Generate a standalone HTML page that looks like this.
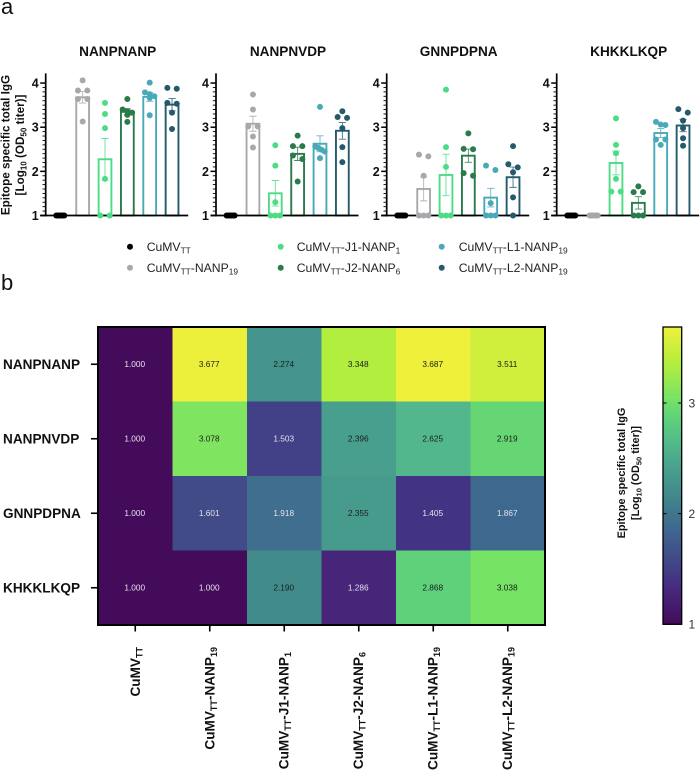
<!DOCTYPE html>
<html lang="en">
<head>
<meta charset="utf-8">
<title>Epitope specific total IgG</title>
<style>
html,body{margin:0;padding:0;background:#fff;}
svg{display:block;font-family:"Liberation Sans",Arial,sans-serif;}
</style>
</head>
<body>
<svg id="figure" width="700" height="772" viewBox="0 0 700 772" xmlns="http://www.w3.org/2000/svg">
  <rect width="700" height="772" fill="#fff"/>
  <text x="1" y="14" font-size="22" fill="#111">a</text>
  <text x="1" y="290" font-size="22" fill="#111">b</text>

  <g font-size="11.7" font-weight="700" fill="#111" text-anchor="middle">
    <text transform="translate(9.5 145) rotate(-90)">Epitope specific total IgG</text>
    <text transform="translate(24 145) rotate(-90)">[Log<tspan dy="2.5" font-size="8">10</tspan><tspan dy="-2.5"> (OD</tspan><tspan dy="2.5" font-size="8">50</tspan><tspan dy="-2.5"> titer)]</tspan></text>
  </g>

  <g id="bar-panels"></g>

  <g font-size="12.2" fill="#222">
    <g><circle cx="130" cy="246.7" r="3" fill="#000"/><text x="146.7" y="251">CuMV<tspan dy="2.5" font-size="8.4">TT</tspan></text></g>
    <g><circle cx="130" cy="267.7" r="3" fill="#a7a8ac"/><text x="146.7" y="272">CuMV<tspan dy="2.5" font-size="8.4">TT</tspan><tspan dy="-2.5">-NANP</tspan><tspan dy="2.5" font-size="8.4">19</tspan></text></g>
    <g><circle cx="280.7" cy="246.7" r="3" fill="#4cdc85"/><text x="296.7" y="251">CuMV<tspan dy="2.5" font-size="8.4">TT</tspan><tspan dy="-2.5">-J1-NANP</tspan><tspan dy="2.5" font-size="8.4">1</tspan></text></g>
    <g><circle cx="280.7" cy="267.7" r="3" fill="#2a7a4b"/><text x="296.7" y="272">CuMV<tspan dy="2.5" font-size="8.4">TT</tspan><tspan dy="-2.5">-J2-NANP</tspan><tspan dy="2.5" font-size="8.4">6</tspan></text></g>
    <g><circle cx="441.7" cy="246.7" r="3" fill="#4aa9b8"/><text x="458.7" y="251">CuMV<tspan dy="2.5" font-size="8.4">TT</tspan><tspan dy="-2.5">-L1-NANP</tspan><tspan dy="2.5" font-size="8.4">19</tspan></text></g>
    <g><circle cx="441.7" cy="267.7" r="3" fill="#245a6b"/><text x="458.7" y="272">CuMV<tspan dy="2.5" font-size="8.4">TT</tspan><tspan dy="-2.5">-L2-NANP</tspan><tspan dy="2.5" font-size="8.4">19</tspan></text></g>
  </g>

  <g id="heatmap"></g>

  <g font-size="13.6" font-weight="700" fill="#111" text-anchor="end">
    <text transform="translate(140 647) rotate(-90)">CuMV<tspan dy="2.5" font-size="9">TT</tspan></text>
    <text transform="translate(214.3 647) rotate(-90)">CuMV<tspan dy="2.5" font-size="9">TT</tspan><tspan dy="-2.5">-NANP</tspan><tspan dy="2.5" font-size="9">19</tspan></text>
    <text transform="translate(288.7 652) rotate(-90)">CuMV<tspan dy="2.5" font-size="9">TT</tspan><tspan dy="-2.5">-J1-NANP</tspan><tspan dy="2.5" font-size="9">1</tspan></text>
    <text transform="translate(363.2 652) rotate(-90)">CuMV<tspan dy="2.5" font-size="9">TT</tspan><tspan dy="-2.5">-J2-NANP</tspan><tspan dy="2.5" font-size="9">6</tspan></text>
    <text transform="translate(437.6 647) rotate(-90)">CuMV<tspan dy="2.5" font-size="9">TT</tspan><tspan dy="-2.5">-L1-NANP</tspan><tspan dy="2.5" font-size="9">19</tspan></text>
    <text transform="translate(512.2 647) rotate(-90)">CuMV<tspan dy="2.5" font-size="9">TT</tspan><tspan dy="-2.5">-L2-NANP</tspan><tspan dy="2.5" font-size="9">19</tspan></text>
  </g>

  <g id="colorbar"></g>

  <g font-size="10.9" font-weight="700" fill="#111" text-anchor="middle">
    <text transform="translate(625 473) rotate(-90)">Epitope specific total IgG</text>
    <text transform="translate(639 473) rotate(-90)">[Log<tspan dy="2.5" font-size="7.5">10</tspan><tspan dy="-2.5"> (OD</tspan><tspan dy="2.5" font-size="7.5">50</tspan><tspan dy="-2.5"> titer)]</tspan></text>
  </g>
</svg>

<script>
// ---- data ----
const epitopes = ["NANPNANP", "NANPNVDP", "GNNPDPNA", "KHKKLKQP"];
const groups = ["CuMV-TT", "NANP19", "J1-NANP1", "J2-NANP6", "L1-NANP19", "L2-NANP19"];
const groupColors = ["#000000", "#a7a8ac", "#4cdc85", "#2a7a4b", "#4aa9b8", "#245a6b"];
const yTicks = [1, 2, 3, 4];
const colorbarTicks = [1, 2, 3];

const meansNanpnanp = [1.000, 3.677, 2.274, 3.348, 3.687, 3.511];
const meansNanpnvdp = [1.000, 3.078, 1.503, 2.396, 2.625, 2.919];
const meansGnnpdpna = [1.000, 1.601, 1.918, 2.355, 1.405, 1.867];
const meansKhkklkqp = [1.000, 1.000, 2.190, 1.286, 2.868, 3.038];

const semsNanpnanp = [0, 0.13, 0.47, 0.07, 0.10, 0.14];
const semsNanpnvdp = [0, 0.17, 0.29, 0.15, 0.18, 0.19];
const semsGnnpdpna = [0, 0.27, 0.47, 0.15, 0.21, 0.23];
const semsKhkklkqp = [0, 0, 0.27, 0.14, 0.10, 0.14];

const pointsNanpnanp = [
  [1, 1, 1, 1, 1, 1],
  [4.06, 3.83, 3.83, 3.64, 3.64, 3.13],
  [3.55, 3.30, 2.98, 1.83, 1, 1],
  [3.64, 3.40, 3.36, 3.33, 3.28, 3.12],
  [4.01, 3.79, 3.75, 3.70, 3.66, 3.27],
  [3.89, 3.87, 3.55, 3.53, 3.33, 2.96]
];
const pointsNanpnvdp = [
  [1, 1, 1, 1, 1, 1],
  [3.74, 3.40, 3.02, 3.02, 2.79, 2.54],
  [2.59, 2.13, 1.30, 1, 1, 1],
  [2.81, 2.57, 2.57, 2.36, 2.28, 1.77],
  [3.46, 2.56, 2.53, 2.49, 2.45, 2.30],
  [3.36, 3.23, 3.21, 2.98, 2.55, 2.21]
];
const pointsGnnpdpna = [
  [1, 1, 1, 1, 1, 1],
  [2.38, 2.34, 1.90, 1, 1, 1],
  [3.85, 2.55, 2.10, 1, 1, 1],
  [2.86, 2.51, 2.50, 1.96, 1.90],
  [2.13, 2.03, 1.28, 1, 1, 1],
  [2.57, 2.16, 2.09, 1.98, 1.41, 1]
];
const pointsKhkklkqp = [
  [1, 1, 1, 1, 1, 1],
  [1, 1, 1, 1, 1, 1],
  [3.20, 2.60, 2.41, 1.83, 1.54, 1.54],
  [1.66, 1.53, 1.53, 1, 1, 1],
  [3.12, 3.06, 3.05, 2.72, 2.72, 2.60],
  [3.41, 3.33, 3.15, 2.98, 2.75, 2.58]
];

const allMeans = [meansNanpnanp, meansNanpnvdp, meansGnnpdpna, meansKhkklkqp];
const allSems = [semsNanpnanp, semsNanpnvdp, semsGnnpdpna, semsKhkklkqp];
const allPoints = [pointsNanpnanp, pointsNanpnvdp, pointsGnnpdpna, pointsKhkklkqp];

const colorValues = [1.0, 1.286, 1.405, 1.503, 1.867, 2.19, 2.396, 2.625, 2.868, 3.038, 3.348, 3.687];
const colorStops = ["#430b59", "#47267a", "#433383", "#424086", "#3f688f", "#428b8b", "#489f8d", "#52b78c", "#5fd17b", "#77e364", "#b2ee3e", "#eef03a"];

// ---- helpers ----
const NS = "http://www.w3.org/2000/svg";
function make(parent, tag, attrs, txt) {
  const n = document.createElementNS(NS, tag);
  for (const k in attrs) n.setAttribute(k, attrs[k]);
  if (txt !== undefined) n.textContent = txt;
  parent.appendChild(n);
  return n;
}
function yScale(v) { return 215.5 - (v - 1) * 44.15; }
function hexToRgb(h) { return [1, 3, 5].map(function (i) { return parseInt(h.substr(i, 2), 16); }); }
function colorFor(v) {
  if (v <= colorValues[0]) return colorStops[0];
  for (let i = 1; i < colorValues.length; i++) {
    if (v <= colorValues[i]) {
      const t = (v - colorValues[i - 1]) / (colorValues[i] - colorValues[i - 1]);
      const a = hexToRgb(colorStops[i - 1]);
      const b = hexToRgb(colorStops[i]);
      return "rgb(" + a.map(function (c, j) { return Math.round(c + (b[j] - c) * t); }).join(",") + ")";
    }
  }
  return colorStops[colorStops.length - 1];
}
// Spread near-equal values sideways, like a scatter swarm
function swarmOffsets(vals) {
  const out = [];
  let i = 0;
  while (i < vals.length) {
    let j = i;
    while (j + 1 < vals.length && Math.abs(vals[i] - vals[j + 1]) <= 0.11) j++;
    const n = j - i + 1;
    const half = n >= 6 ? 4 : 4.7;
    for (let k = 0; k < n; k++) {
      out.push(n === 1 ? 0 : -half + 2 * half * k / (n - 1));
    }
    i = j + 1;
  }
  return out;
}

// ---- bar panels ----
const panelsRoot = document.getElementById("bar-panels");
const axisXs = [45.7, 216, 386.7, 556.7];
epitopes.forEach(function (name, p) {
  const ax = axisXs[p];
  const g = make(panelsRoot, "g", {});
  
  

  const title = make(g, "text", { x: ax + 72, y: 56, "font-size": 13.6, "font-weight": 700, "text-anchor": "middle", fill: "#111" }, name);
  
  

  // bars and error bars
  groups.forEach(function (grp, s) {
    const cx = ax + 14.6 + 22.35 * s;
    const m = allMeans[p][s];
    const e = allSems[p][s];
    const col = groupColors[s];
    if (m > 1.001) {
      const bar = make(g, "rect", { x: cx - 6.4, y: yScale(m), width: 12.8, height: yScale(1) - yScale(m), fill: "#fff", stroke: col, "stroke-width": 1.9 });
      
      
    }
    if (e > 0) {
      const err = make(g, "path", {
        d: "M" + cx + " " + yScale(m + e) + "V" + yScale(m - e) +
           "M" + (cx - 3.6) + " " + yScale(m + e) + "H" + (cx + 3.6) +
           "M" + (cx - 3.6) + " " + yScale(m - e) + "H" + (cx + 3.6),
        fill: "none", stroke: col, "stroke-width": 0.9, opacity: 0.85
      });
      
      
    }
  });

  // axes
  const yAxis = make(g, "line", { x1: ax, x2: ax, y1: yScale(4.22), y2: yScale(1) + 1, stroke: "#000", "stroke-width": 1.7 });
  
  
  const xAxis = make(g, "line", { x1: ax - 5.5, x2: ax + 142.5, y1: yScale(1), y2: yScale(1), stroke: "#000", "stroke-width": 1.7 });
  
  
  for (let t = 10; t < 40; t++) {
    if (t % 10 === 0) continue;
    const minor = make(g, "line", { x1: ax - 3.2, x2: ax, y1: yScale(t / 10), y2: yScale(t / 10), stroke: "#000", "stroke-width": 0.9 });
    
    
  }
  yTicks.forEach(function (t) {
    const tick = make(g, "line", { x1: ax - 5.5, x2: ax, y1: yScale(t), y2: yScale(t), stroke: "#000", "stroke-width": 1.5 });
    
    
    const lab = make(g, "text", { x: ax - 7, y: yScale(t) + 4.4, "font-size": 12.5, "font-weight": 700, "text-anchor": "end", fill: "#111" }, String(t));
    
    
  });

  // dots
  groups.forEach(function (grp, s) {
    const cx = ax + 14.6 + 22.35 * s;
    const vals = allPoints[p][s];
    const off = swarmOffsets(vals);
    vals.forEach(function (v, i) {
      const dot = make(g, "circle", { cx: cx + off[i], cy: yScale(v), r: 3, fill: groupColors[s] });
      
      
    });
  });
});

// ---- heatmap ----
const heatRoot = document.getElementById("heatmap");
const hLeft = 98, hTop = 327, hW = 447, hH = 298;
const cellW = hW / groups.length, cellH = hH / epitopes.length;
epitopes.forEach(function (name, r) {
  groups.forEach(function (grp, c) {
    const v = allMeans[r][c];
    const cell = make(heatRoot, "rect", { x: hLeft + c * cellW, y: hTop + r * cellH, width: cellW + 0.3, height: cellH + 0.3, fill: colorFor(v) });
    
    
    const label = make(heatRoot, "text", {
      x: hLeft + (c + 0.5) * cellW - 0.5, y: hTop + (r + 0.5) * cellH + 2.9,
      "font-size": 8.3, "text-anchor": "middle", fill: v >= 2.1 ? "#1c1c1c" : "#e6e0ee"
    }, v.toFixed(3));
    
    
  });
  const cy = hTop + (r + 0.5) * cellH;
  const rowTick = make(heatRoot, "line", { x1: hLeft - 7, x2: hLeft, y1: cy, y2: cy, stroke: "#000", "stroke-width": 1.6 });
  
  
  const rowLabel = make(heatRoot, "text", { x: 3, y: cy + 4.8, "font-size": 13.6, "font-weight": 700, fill: "#111" }, name);
  
  
});
groups.forEach(function (grp, c) {
  const cx = hLeft + (c + 0.5) * cellW;
  const colTick = make(heatRoot, "line", { x1: cx, x2: cx, y1: hTop + hH, y2: hTop + hH + 6.5, stroke: "#000", "stroke-width": 1.6 });
  
  
});
const heatFrame = make(heatRoot, "rect", { x: hLeft, y: hTop, width: hW, height: hH, fill: "none", stroke: "#000", "stroke-width": 2 });



// ---- colorbar ----
const cbRoot = document.getElementById("colorbar");
const cbLeft = 663, cbWidth = 18.7, cbTop = 327, cbBottom = 624.3;
const cbScale = function (v) { return cbBottom - (v - 1) * (cbBottom - cbTop) / (colorValues[colorValues.length - 1] - 1); };
const defs = make(cbRoot, "defs", {});
const grad = make(defs, "linearGradient", { id: "cb-grad", x1: 0, y1: 1, x2: 0, y2: 0 });
colorValues.forEach(function (v, i) {
  make(grad, "stop", { offset: (v - 1) / (colorValues[colorValues.length - 1] - 1), "stop-color": colorStops[i] });
});
const cbRect = make(cbRoot, "rect", { x: cbLeft, y: cbTop, width: cbWidth, height: cbBottom - cbTop, fill: "url(#cb-grad)", stroke: "#000", "stroke-width": 1.3 });


colorbarTicks.forEach(function (t) {
  const yy = cbScale(t);
  const tk = make(cbRoot, "path", { d: "M" + cbLeft + " " + yy + "h3.5M" + (cbLeft + cbWidth) + " " + yy + "h-3.5", stroke: "#000", "stroke-width": 1 });
  
  
  const lab = make(cbRoot, "text", { x: 688.5, y: yy + 4.3, "font-size": 12, fill: "#333" }, String(t));
  
  
});
</script>
</body>
</html>
